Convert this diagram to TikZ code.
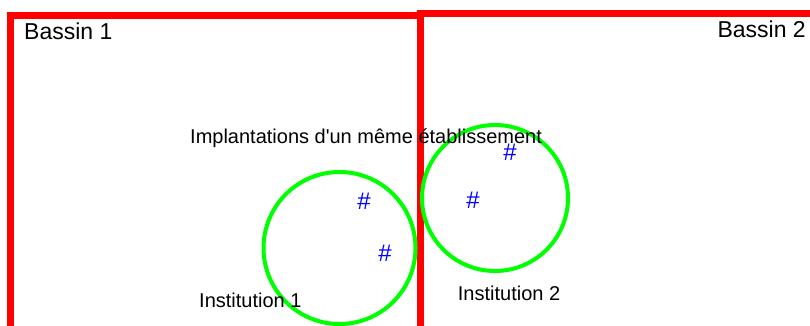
\documentclass[tikz,border=0pt]{standalone}
\usepackage{fontspec}
\setmainfont{Liberation Sans}
\begin{document}
\begin{tikzpicture}[x=1pt,y=-1pt,
  bassin/.style={draw=red,line width=7pt},
  zone/.style={draw=green,line width=4pt},
  lbl/.style={inner sep=0pt,font=\fontsize{20}{24}\selectfont},
  blbl/.style={inner sep=0pt,font=\fontsize{23}{27}\selectfont},
  hashmark/.style={inner sep=0pt,text=blue,font=\fontsize{24}{28}\selectfont}]
\useasboundingbox (0,0) rectangle (810,325);
\clip (0,0) rectangle (810,325);
\draw[bassin] (10.5,400) -- (10.5,15.5) -- (420,15.5) -- (420,400);
\draw[bassin] (420,400) -- (420,13.5) -- (900,13.5);
\node[zone,circle,minimum size=152pt,inner sep=0pt] (c1) at (339.5,248) {};
\node[zone,circle,minimum size=146pt,inner sep=0pt] (c2) at (495,198) {};
\node[blbl,anchor=base west] (b1) at (24,39) {Bassin 1};
\node[blbl,anchor=base east] (b2) at (806,37.5) {Bassin 2};
\node[lbl,anchor=base west] (impl) at (190,143.3) {Implantations d\textquotesingle un même établissement};
\node[lbl,anchor=base west] (i1) at (199,307) {Institution 1};
\node[lbl,anchor=base west] (i2) at (457.7,300) {Institution 2};
\node[hashmark] (h1) at (364,201) {\#};
\node[hashmark] (h2) at (385,253) {\#};
\node[hashmark] (h3) at (473,200) {\#};
\node[hashmark] (h4) at (510,152) {\#};
\end{tikzpicture}
\end{document}
